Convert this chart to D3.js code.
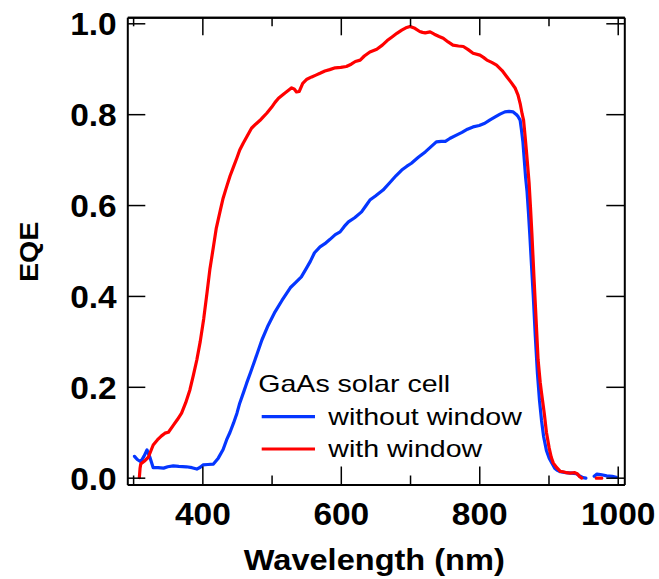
<!DOCTYPE html>
<html>
<head>
<meta charset="utf-8">
<script src="https://cdn.jsdelivr.net/npm/d3@7"></script>
<style>
  html, body { margin: 0; padding: 0; background: #fff; }
  svg { display: block; }
  text { font-family: "Liberation Sans", Arial, sans-serif; fill: #000; }
</style>
</head>
<body>
<svg id="chart" width="659" height="579"></svg>
<script>
// EQE of a GaAs solar cell, with and without window layer (null = no data)
const noWindowWl = [302, 306, 311, 316, 320, 324, 329, 336, 344, 350, 358, 366, 377, 385, 392, 397, 401, 408, 416, 423, 430, 435, 440, 445, 450, 454, 460, 464, 470, 476, 486, 495, 505, 515, 527, 535, 543, 550, 556, 562, 570, 577, 584, 592, 599, 605, 611, 620, 630, 636, 642, 650, 661, 670, 680, 688, 695, 702, 712, 722, 730, 738, 745, 751, 758, 767, 775, 783, 791, 800, 808, 815, 823, 830, 837, 843, 849, 853, 856, 859, 861, 863, 865, 867, 869, 871, 873, 875, 878, 881, 884, 887, 890, 893, 897, 901, 905, 909, 913, 917, 925, 933, 940, 945, 950, 954, 958, 966, 970, 975, 984, 992, 998];
const noWindowEqe = [0.047, 0.040, 0.035, 0.048, 0.061, 0.046, 0.022, 0.022, 0.021, 0.024, 0.026, 0.025, 0.024, 0.022, 0.019, 0.023, 0.028, 0.029, 0.030, 0.043, 0.062, 0.083, 0.100, 0.120, 0.142, 0.164, 0.190, 0.208, 0.233, 0.259, 0.303, 0.335, 0.365, 0.390, 0.418, 0.430, 0.442, 0.460, 0.476, 0.495, 0.508, 0.515, 0.524, 0.535, 0.541, 0.553, 0.563, 0.572, 0.585, 0.598, 0.611, 0.620, 0.633, 0.648, 0.665, 0.677, 0.685, 0.692, 0.705, 0.717, 0.728, 0.739, 0.740, 0.740, 0.747, 0.754, 0.760, 0.767, 0.772, 0.775, 0.780, 0.787, 0.794, 0.800, 0.805, 0.806, 0.805, 0.800, 0.795, 0.787, 0.765, 0.740, 0.700, 0.660, 0.630, 0.585, 0.535, 0.480, 0.400, 0.310, 0.230, 0.170, 0.125, 0.090, 0.060, 0.043, 0.032, 0.021, 0.016, 0.013, 0.011, 0.010, 0.009, 0.004, 0.000, -0.001, null, 0.003, 0.008, 0.007, 0.004, 0.003, 0.001];

const withWindowWl = [309, 310, 311, 316, 322, 329, 335, 341, 346, 351, 358, 364, 370, 376, 382, 387, 392, 397, 402, 407, 411, 416, 420, 426, 430, 435, 440, 445, 450, 454, 459, 464, 471, 477, 483, 488, 493, 500, 505, 510, 518, 524, 529, 533, 536, 540, 545, 551, 558, 564, 570, 577, 584, 592, 600, 608, 615, 621, 628, 634, 642, 652, 660, 667, 674, 681, 688, 694, 700, 707, 714, 718, 722, 729, 735, 742, 748, 755, 762, 770, 777, 784, 791, 801, 806, 811, 818, 825, 833, 840, 846, 852, 856, 859, 862, 864, 866, 868, 870, 872, 874, 876, 879, 882, 885, 888, 890, 894, 897, 901, 904, 907, 912, 917, 921, 926, 931, 938, 942, 945, 948, 958, 969, 977];
const withWindowEqe = [0.000, 0.020, 0.030, 0.036, 0.045, 0.072, 0.083, 0.092, 0.098, 0.100, 0.115, 0.128, 0.142, 0.165, 0.193, 0.225, 0.259, 0.300, 0.350, 0.410, 0.460, 0.508, 0.548, 0.589, 0.615, 0.640, 0.664, 0.684, 0.704, 0.721, 0.736, 0.750, 0.769, 0.778, 0.786, 0.794, 0.802, 0.815, 0.826, 0.835, 0.845, 0.852, 0.858, 0.855, 0.849, 0.850, 0.868, 0.877, 0.882, 0.886, 0.890, 0.895, 0.898, 0.902, 0.903, 0.905, 0.910, 0.916, 0.919, 0.928, 0.937, 0.943, 0.952, 0.962, 0.970, 0.978, 0.985, 0.990, 0.993, 0.989, 0.982, 0.980, 0.979, 0.981, 0.976, 0.971, 0.967, 0.959, 0.952, 0.950, 0.949, 0.942, 0.934, 0.930, 0.925, 0.919, 0.914, 0.908, 0.896, 0.882, 0.870, 0.857, 0.842, 0.824, 0.800, 0.787, 0.755, 0.721, 0.685, 0.648, 0.595, 0.538, 0.442, 0.350, 0.259, 0.210, 0.186, 0.140, 0.100, 0.065, 0.045, 0.032, 0.022, 0.014, 0.013, 0.011, 0.010, 0.011, 0.008, 0.002, -0.001, null, -0.001, -0.001];

const xMajorTicks = [400, 600, 800, 1000];
const xMinorTicks = [300, 500, 700, 900];
const yTicks = [0.0, 0.2, 0.4, 0.6, 0.8, 1.0];

const seriesNames = ["without window", "with window"];
const seriesColors = ["#0536ff", "#ff0000"];
const legendTitle = "GaAs solar cell";
const xTitle = "Wavelength (nm)";
const yTitle = "EQE";

const svg = d3.select("#chart");

const x = d3.scaleLinear().domain([291.6, 1009.5]).range([127.3, 624.3]);
const y = d3.scaleLinear().domain([-0.015, 1.0132]).range([484.5, 17.3]);

const [xl, xr] = x.range();
const [yb, yt] = y.range();

// clip the curves to the plotting frame
svg.append("defs").append("clipPath").attr("id", "plotClip")
  .append("rect")
  .attr("x", xl).attr("y", yt)
  .attr("width", xr - xl).attr("height", yb - yt);

const series = [
  { name: seriesNames[0], color: seriesColors[0], pts: d3.zip(noWindowWl, noWindowEqe) },
  { name: seriesNames[1], color: seriesColors[1], pts: d3.zip(withWindowWl, withWindowEqe) }
];

const line = d3.line()
  .defined(d => d[1] != null)
  .x(d => x(d[0]))
  .y(d => y(d[1]));

svg.append("g").attr("clip-path", "url(#plotClip)")
  .selectAll("path").data(series).join("path")
  .attr("d", d => line(d.pts))
  .attr("fill", "none")
  .attr("stroke", d => d.color)
  .attr("stroke-width", 3.2)
  .attr("stroke-linejoin", "round")
  .attr("stroke-linecap", "round");

// axes: ticks point inward on all four sides
const MAJOR = 18, MINOR = 9;
const fmtY = d3.format(".1f");
const fmtX = d3.format("d");

function styleAxis(g) {
  g.attr("font-family", null).attr("font-size", null);
  g.select(".domain").attr("stroke", "#000").attr("stroke-width", 2);
  g.selectAll(".tick line").attr("stroke", "#000").attr("stroke-width", 1.5);
}

const bottom = svg.append("g").attr("transform", `translate(0,${yb})`)
  .call(d3.axisBottom(x).tickValues(xMajorTicks).tickFormat(fmtX).tickSize(-MAJOR).tickSizeOuter(0))
  .call(styleAxis);
bottom.selectAll(".tick text")
  .attr("y", 41).attr("dy", null)
  .attr("transform", "scale(1.08,1)")
  .style("font-size", "31px").style("font-weight", "bold");

svg.append("g").attr("transform", `translate(0,${yb})`)
  .call(d3.axisBottom(x).tickValues(xMinorTicks).tickFormat("").tickSize(-MINOR).tickSizeOuter(0))
  .call(styleAxis);

svg.append("g").attr("transform", `translate(0,${yt})`)
  .call(d3.axisTop(x).tickValues(xMajorTicks).tickFormat("").tickSize(-MAJOR).tickSizeOuter(0))
  .call(styleAxis);
svg.append("g").attr("transform", `translate(0,${yt})`)
  .call(d3.axisTop(x).tickValues(xMinorTicks).tickFormat("").tickSize(-MINOR).tickSizeOuter(0))
  .call(styleAxis);

const left = svg.append("g").attr("transform", `translate(${xl},0)`)
  .call(d3.axisLeft(y).tickValues(yTicks).tickFormat(fmtY).tickSize(-MAJOR).tickSizeOuter(0))
  .call(styleAxis);
left.selectAll(".tick text")
  .attr("x", 0).attr("y", 11.5).attr("dy", null)
  .attr("transform", "translate(-10.6,0) scale(1.08,1)")
  .style("font-size", "31px").style("font-weight", "bold");

svg.append("g").attr("transform", `translate(${xr},0)`)
  .call(d3.axisRight(y).tickValues(yTicks).tickFormat("").tickSize(-MAJOR).tickSizeOuter(0))
  .call(styleAxis);

// axis titles
svg.append("text")
  .attr("transform", `translate(${(xl + xr) / 2 - 1.5},570) scale(1.085,1)`)
  .attr("text-anchor", "middle")
  .style("font-size", "30px").style("font-weight", "bold")
  .text(xTitle);

svg.append("text")
  .attr("transform", `translate(38,${(yt + yb) / 2 + 1}) rotate(-90) scale(1.1,1)`)
  .attr("text-anchor", "middle")
  .style("font-size", "26px").style("font-weight", "bold")
  .text(yTitle);

// legend
const legend = svg.append("g").attr("transform", "translate(258.3,391.7)");
legend.append("text")
  .attr("transform", "scale(1.19,1)")
  .style("font-size", "24px")
  .text(legendTitle);

const rows = legend.selectAll("g.row").data(series).join("g")
  .attr("class", "row")
  .attr("transform", (d, i) => `translate(0,${33.3 + i * 32.3})`);
rows.append("line")
  .attr("x1", 3.4).attr("x2", 56.7)
  .attr("y1", -8.3).attr("y2", -8.3)
  .attr("stroke", d => d.color)
  .attr("stroke-width", 3.2);
rows.append("text")
  .attr("transform", "translate(70,0) scale(1.19,1)")
  .style("font-size", "24px")
  .text(d => d.name);
</script>
</body>
</html>
